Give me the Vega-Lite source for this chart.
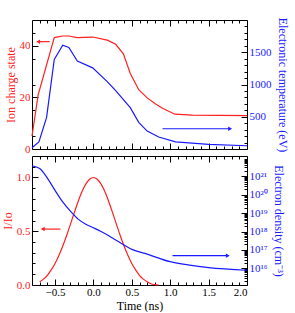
{
  "$schema": "https://vega.github.io/schema/vega-lite/v6.json",
  "background": "white",
  "padding": {"left": 0, "top": 16, "right": 0, "bottom": 0},
  "spacing": 0,
  "datasets": {
    "ion": [
      {"t": -0.8, "v": 5}, {"t": -0.72, "v": 21}, {"t": -0.51, "v": 43.2}, {"t": -0.4, "v": 43.8},
      {"t": -0.32, "v": 43.8}, {"t": -0.21, "v": 43.2}, {"t": -0.01, "v": 43.4}, {"t": 0.18, "v": 42.2},
      {"t": 0.29, "v": 40.6}, {"t": 0.39, "v": 36.9}, {"t": 0.48, "v": 29.3}, {"t": 0.59, "v": 23},
      {"t": 0.7, "v": 19.8}, {"t": 0.81, "v": 17.4}, {"t": 0.9, "v": 15.8}, {"t": 1.06, "v": 13.5},
      {"t": 1.29, "v": 13.1}, {"t": 2.0, "v": 12.9}
    ],
    "temp": [
      {"t": -0.8, "v": 20}, {"t": -0.71, "v": 110}, {"t": -0.61, "v": 490}, {"t": -0.51, "v": 1390},
      {"t": -0.4, "v": 1610}, {"t": -0.32, "v": 1575}, {"t": -0.21, "v": 1364}, {"t": -0.01, "v": 1258},
      {"t": 0.18, "v": 1045}, {"t": 0.29, "v": 905}, {"t": 0.48, "v": 641}, {"t": 0.59, "v": 414},
      {"t": 0.7, "v": 277}, {"t": 0.85, "v": 186}, {"t": 1.07, "v": 110}, {"t": 1.5, "v": 71},
      {"t": 2.0, "v": 50}
    ],
    "intensity": [
      {"t": -0.7, "v": 0.03}, {"t": -0.65, "v": 0.055}, {"t": -0.6, "v": 0.09}, {"t": -0.55, "v": 0.14},
      {"t": -0.5, "v": 0.2}, {"t": -0.45, "v": 0.275}, {"t": -0.4, "v": 0.361}, {"t": -0.35, "v": 0.458},
      {"t": -0.3, "v": 0.564}, {"t": -0.25, "v": 0.672}, {"t": -0.2, "v": 0.775}, {"t": -0.15, "v": 0.867},
      {"t": -0.1, "v": 0.938}, {"t": -0.05, "v": 0.984}, {"t": 0, "v": 1.0}, {"t": 0.05, "v": 0.984},
      {"t": 0.1, "v": 0.938}, {"t": 0.15, "v": 0.867}, {"t": 0.2, "v": 0.775}, {"t": 0.25, "v": 0.672},
      {"t": 0.3, "v": 0.564}, {"t": 0.35, "v": 0.458}, {"t": 0.4, "v": 0.361}, {"t": 0.45, "v": 0.275},
      {"t": 0.5, "v": 0.2}, {"t": 0.55, "v": 0.14}, {"t": 0.6, "v": 0.09}, {"t": 0.65, "v": 0.055},
      {"t": 0.7, "v": 0.03}, {"t": 0.75, "v": 0.012}, {"t": 0.8, "v": 0.004}, {"t": 0.85, "v": 0.0}
    ],
    "density": [
      {"t": -0.8, "v": 3.7e21}, {"t": -0.7, "v": 2.6e21}, {"t": -0.6, "v": 7.9e20}, {"t": -0.5, "v": 1.7e20},
      {"t": -0.4, "v": 4e19}, {"t": -0.3, "v": 1.26e19}, {"t": -0.2, "v": 4.7e18}, {"t": -0.1, "v": 2.5e18},
      {"t": 0, "v": 1.6e18}, {"t": 0.1, "v": 1e18}, {"t": 0.2, "v": 5.9e17}, {"t": 0.33, "v": 2.75e17},
      {"t": 0.5, "v": 1.07e17}, {"t": 0.7, "v": 5.9e16}, {"t": 1.0, "v": 2.3e16}, {"t": 1.25, "v": 1.5e16},
      {"t": 1.5, "v": 1.1e16}, {"t": 2.0, "v": 7.9e15}
    ],
    "arrowIon": [{"x": -0.57, "x2": -0.72, "y": 41.6}],
    "arrowTemp": [{"x": 0.9, "x2": 1.78, "y": 314}],
    "arrowInt": [{"x": -0.43, "x2": -0.66, "y": 0.52}],
    "arrowDen": [{"x": 1.03, "x2": 1.75, "y": 4.9e16}]
  },
  "config": {
    "font": "Liberation Serif",
    "view": {"stroke": "black", "strokeWidth": 1},
    "axis": {
      "domain": false,
      "grid": false,
      "tickSize": -6,
      "tickColor": "black",
      "labelFont": "Liberation Serif",
      "titleFont": "Liberation Serif",
      "labelFontSize": 11,
      "titleFontSize": 12,
      "titleFontWeight": "normal",
      "labelPadding": 0,
      "labelOverlap": false
    }
  },
  "vconcat": [
    {
      "width": 215,
      "height": 129,
      "layer": [
        {
          "layer": [
            {
              "data": {"name": "ion"},
              "mark": {"type": "line", "color": "#ff2020", "strokeWidth": 1.2},
              "encoding": {
                "x": {"field": "t", "type": "quantitative", "scale": {"domain": [-0.8, 2.0], "nice": false},
                  "axis": {"orient": "bottom", "labels": false, "title": null, "values": [-0.5, 0, 0.5, 1, 1.5, 2]}},
                "y": {"field": "v", "type": "quantitative", "scale": {"domain": [0, 50], "nice": false},
                  "axis": {"orient": "left", "title": "Ion charge state", "titleColor": "#ff2020", "labelColor": "#ff2020",
                    "values": [0, 10, 20, 30, 40, 50], "labelPadding": 8, "titlePadding": 2}}
              }
            },
            {
              "data": {"name": "arrowIon"},
              "mark": {"type": "rule", "color": "#ff2020", "strokeWidth": 1.2},
              "encoding": {"x": {"field": "x", "type": "quantitative"}, "x2": {"field": "x2"}, "y": {"field": "y", "type": "quantitative"}}
            },
            {
              "data": {"name": "arrowIon"},
              "mark": {"type": "point", "shape": "triangle-left", "filled": true, "color": "#ff2020", "size": 20, "opacity": 1},
              "encoding": {"x": {"field": "x2", "type": "quantitative"}, "y": {"field": "y", "type": "quantitative"}}
            }
          ]
        },
        {
          "layer": [
            {
              "data": {"name": "temp"},
              "mark": {"type": "line", "color": "#1a1aff", "strokeWidth": 1.2},
              "encoding": {
                "x": {"field": "t", "type": "quantitative", "scale": {"domain": [-0.8, 2.0], "nice": false},
                  "axis": {"orient": "top", "labels": false, "title": null, "values": [-0.5, 0, 0.5, 1, 1.5, 2]}},
                "y": {"field": "v", "type": "quantitative", "scale": {"domain": [0, 2000], "nice": false},
                  "axis": {"orient": "right", "title": "Electronic temperature (eV)", "titleColor": "#1a1aff", "labelColor": "#1a1aff",
                    "values": [500, 1000, 1500], "format": "d", "labelPadding": 8, "titlePadding": 4}}
              }
            },
            {
              "data": {"name": "arrowTemp"},
              "mark": {"type": "rule", "color": "#1a1aff", "strokeWidth": 1.2},
              "encoding": {"x": {"field": "x", "type": "quantitative"}, "x2": {"field": "x2"}, "y": {"field": "y", "type": "quantitative"}}
            },
            {
              "data": {"name": "arrowTemp"},
              "mark": {"type": "point", "shape": "triangle-right", "filled": true, "color": "#1a1aff", "size": 20, "opacity": 1},
              "encoding": {"x": {"field": "x2", "type": "quantitative"}, "y": {"field": "y", "type": "quantitative"}}
            }
          ]
        },
        {
          "data": {"name": "ion"},
          "mark": {"type": "line", "opacity": 0},
          "encoding": {
            "x": {"field": "t", "type": "quantitative", "scale": {"domain": [-0.8, 2.0], "nice": false},
              "axis": {"orient": "bottom", "labels": false, "title": null, "tickSize": -3,
                "values": [-0.7, -0.6, -0.4, -0.3, -0.2, -0.1, 0.1, 0.2, 0.3, 0.4, 0.6, 0.7, 0.8, 0.9, 1.1, 1.2, 1.3, 1.4, 1.6, 1.7, 1.8, 1.9]}},
            "y": {"field": "v", "type": "quantitative", "scale": {"domain": [0, 50], "nice": false},
              "axis": {"orient": "left", "labels": false, "title": null, "tickSize": -3, "values": [5, 15, 25, 35, 45]}}
          }
        },
        {
          "data": {"name": "temp"},
          "mark": {"type": "line", "opacity": 0},
          "encoding": {
            "x": {"field": "t", "type": "quantitative", "scale": {"domain": [-0.8, 2.0], "nice": false},
              "axis": {"orient": "top", "labels": false, "title": null, "tickSize": -3,
                "values": [-0.7, -0.6, -0.4, -0.3, -0.2, -0.1, 0.1, 0.2, 0.3, 0.4, 0.6, 0.7, 0.8, 0.9, 1.1, 1.2, 1.3, 1.4, 1.6, 1.7, 1.8, 1.9]}},
            "y": {"field": "v", "type": "quantitative", "scale": {"domain": [0, 2000], "nice": false},
              "axis": {"orient": "right", "labels": false, "title": null, "tickSize": -3,
                "values": [100, 200, 300, 400, 600, 700, 800, 900, 1100, 1200, 1300, 1400, 1600, 1700, 1800, 1900]}}
          }
        }
      ],
      "resolve": {"scale": {"y": "independent"}, "axis": {"x": "independent", "y": "independent"}}
    },
    {
      "width": 215,
      "height": 129,
      "layer": [
        {
          "layer": [
            {
              "data": {"name": "intensity"},
              "mark": {"type": "line", "color": "#ff2020", "strokeWidth": 1.2, "interpolate": "monotone"},
              "encoding": {
                "x": {"field": "t", "type": "quantitative", "scale": {"domain": [-0.8, 2.0], "nice": false},
                  "axis": {"orient": "bottom", "title": "Time (ns)", "titleColor": "black", "labelColor": "black", "titleFontSize": 12,
                    "values": [-0.5, 0, 0.5, 1, 1.5, 2], "format": ".1f", "labelPadding": 7, "titlePadding": 3}},
                "y": {"field": "v", "type": "quantitative", "scale": {"domain": [0, 1.2], "nice": false},
                  "axis": {"orient": "left", "title": "I/Io", "titleColor": "#ff2020", "labelColor": "#ff2020",
                    "values": [0, 0.5, 1.0], "format": ".1f", "labelPadding": 8, "titlePadding": 2}}
              }
            },
            {
              "data": {"name": "arrowInt"},
              "mark": {"type": "rule", "color": "#ff2020", "strokeWidth": 1.2},
              "encoding": {"x": {"field": "x", "type": "quantitative"}, "x2": {"field": "x2"}, "y": {"field": "y", "type": "quantitative"}}
            },
            {
              "data": {"name": "arrowInt"},
              "mark": {"type": "point", "shape": "triangle-left", "filled": true, "color": "#ff2020", "size": 20, "opacity": 1},
              "encoding": {"x": {"field": "x2", "type": "quantitative"}, "y": {"field": "y", "type": "quantitative"}}
            }
          ]
        },
        {
          "layer": [
            {
              "data": {"name": "density"},
              "mark": {"type": "line", "color": "#1a1aff", "strokeWidth": 1.2, "interpolate": "monotone"},
              "encoding": {
                "x": {"field": "t", "type": "quantitative", "scale": {"domain": [-0.8, 2.0], "nice": false},
                  "axis": {"orient": "top", "labels": false, "title": null, "values": [-0.5, 0, 0.5, 1, 1.5, 2]}},
                "y": {"field": "v", "type": "quantitative", "scale": {"type": "log", "domain": [1.25e15, 1.25e22], "nice": false},
                  "axis": {"orient": "right", "title": "Electron density (cm⁻³)", "titleColor": "#1a1aff", "labelColor": "#1a1aff",
                    "values": [1e16, 1e17, 1e18, 1e19, 1e20, 1e21], "labelPadding": 8, "titlePadding": 4,
                    "labelExpr": "round(log(datum.value)/LN10) == 16 ? '10¹⁶' : round(log(datum.value)/LN10) == 17 ? '10¹⁷' : round(log(datum.value)/LN10) == 18 ? '10¹⁸' : round(log(datum.value)/LN10) == 19 ? '10¹⁹' : round(log(datum.value)/LN10) == 20 ? '10²⁰' : '10²¹'"}}
              }
            },
            {
              "data": {"name": "arrowDen"},
              "mark": {"type": "rule", "color": "#1a1aff", "strokeWidth": 1.2},
              "encoding": {"x": {"field": "x", "type": "quantitative"}, "x2": {"field": "x2"}, "y": {"field": "y", "type": "quantitative"}}
            },
            {
              "data": {"name": "arrowDen"},
              "mark": {"type": "point", "shape": "triangle-right", "filled": true, "color": "#1a1aff", "size": 20, "opacity": 1},
              "encoding": {"x": {"field": "x2", "type": "quantitative"}, "y": {"field": "y", "type": "quantitative"}}
            }
          ]
        },
        {
          "data": {"name": "intensity"},
          "mark": {"type": "line", "opacity": 0},
          "encoding": {
            "x": {"field": "t", "type": "quantitative", "scale": {"domain": [-0.8, 2.0], "nice": false},
              "axis": {"orient": "bottom", "labels": false, "title": null, "tickSize": -3,
                "values": [-0.7, -0.6, -0.4, -0.3, -0.2, -0.1, 0.1, 0.2, 0.3, 0.4, 0.6, 0.7, 0.8, 0.9, 1.1, 1.2, 1.3, 1.4, 1.6, 1.7, 1.8, 1.9]}},
            "y": {"field": "v", "type": "quantitative", "scale": {"domain": [0, 1.2], "nice": false},
              "axis": {"orient": "left", "labels": false, "title": null, "tickSize": -3, "values": [0.1, 0.2, 0.3, 0.4, 0.6, 0.7, 0.8, 0.9, 1.1]}}
          }
        },
        {
          "data": {"name": "density"},
          "mark": {"type": "line", "opacity": 0},
          "encoding": {
            "x": {"field": "t", "type": "quantitative", "scale": {"domain": [-0.8, 2.0], "nice": false},
              "axis": {"orient": "top", "labels": false, "title": null, "tickSize": -3,
                "values": [-0.7, -0.6, -0.4, -0.3, -0.2, -0.1, 0.1, 0.2, 0.3, 0.4, 0.6, 0.7, 0.8, 0.9, 1.1, 1.2, 1.3, 1.4, 1.6, 1.7, 1.8, 1.9]}},
            "y": {"field": "v", "type": "quantitative", "scale": {"type": "log", "domain": [1.25e15, 1.25e22], "nice": false},
              "axis": {"orient": "right", "labels": false, "title": null, "tickSize": -3,
                "values": [2e15, 3e15, 4e15, 5e15, 6e15, 7e15, 8e15, 9e15, 2e16, 3e16, 4e16, 5e16, 6e16, 7e16, 8e16, 9e16, 2e17, 3e17, 4e17, 5e17, 6e17, 7e17, 8e17, 9e17, 2e18, 3e18, 4e18, 5e18, 6e18, 7e18, 8e18, 9e18, 2e19, 3e19, 4e19, 5e19, 6e19, 7e19, 8e19, 9e19, 2e20, 3e20, 4e20, 5e20, 6e20, 7e20, 8e20, 9e20, 2e21, 3e21, 4e21, 5e21, 6e21, 7e21, 8e21, 9e21]}}
          }
        }
      ],
      "resolve": {"scale": {"y": "independent"}, "axis": {"x": "independent", "y": "independent"}}
    }
  ]
}
